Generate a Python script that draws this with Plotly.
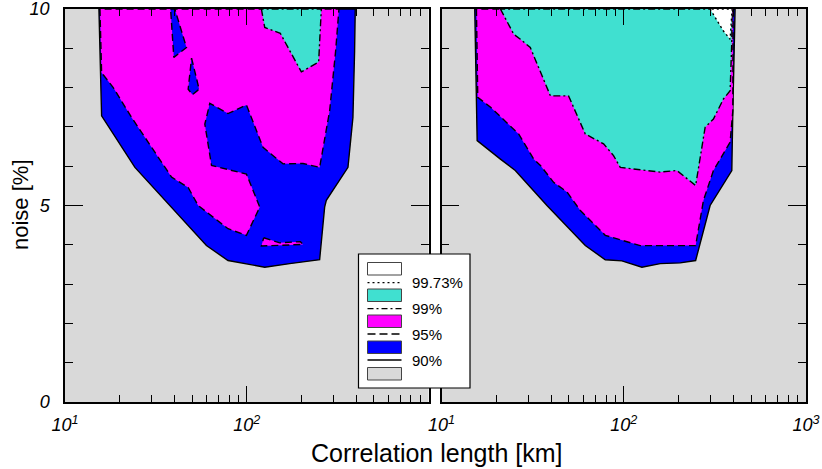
import plotly.graph_objects as go

# ── Contour polygons (x: correlation length [km], y: noise [%]) ──
# left panel
L90_x = [15.37, 15.9, 24.25, 36.96, 60.0, 78.9, 125.6, 172.3, 251.8, 268.3, 274.0, 360.5, 383.9, 392.1, 395.4]
L90_y = [10.0, 7.28, 5.97, 5.04, 3.98, 3.60, 3.43, 3.52, 3.62, 4.96, 5.13, 5.97, 7.24, 8.93, 10.0]

L95_x = [15.57, 15.9, 18.43, 23.25, 38.6, 47.6, 54.0, 78.9, 99.6, 117.9, 99.6, 64.0, 58.8, 62.6, 78.9, 99.6,
         122.9, 158.4, 204.0, 251.8, 285.8, 308.3, 321.6]
L95_y = [10.0, 8.38, 8.0, 7.24, 5.72, 5.46, 5.0, 4.41, 4.24, 4.96, 5.80, 6.02, 7.07, 7.60, 7.34, 7.56,
         6.48, 6.06, 6.07, 5.97, 7.41, 8.93, 10.0]

L95_hole1_x = [38.1, 40.2, 46.6, 39.7]
L95_hole1_y = [10.0, 10.0, 9.02, 8.77]
L95_hole2_x = [49.7, 54.7, 50.3, 47.6]
L95_hole2_y = [8.75, 7.96, 7.82, 7.96]

L95_island_x = [124.0, 151.8, 197.2, 204.0, 120.4]
L95_island_y = [4.18, 4.05, 4.08, 4.01, 3.97]

L99_x = [120.4, 125.6, 153.0, 199.7, 248.6, 257.2]
L99_y = [10.0, 9.53, 9.38, 8.40, 8.65, 10.0]

# right panel
R90_x = [15.22, 15.69, 21.05, 25.4, 37.9, 61.5, 79.2, 97.7, 125.8, 158.5, 204.0, 248.0, 297.8, 391.7, 396.7, 408.3]
R90_y = [10.0, 6.65, 6.18, 5.89, 5.0, 3.98, 3.62, 3.59, 3.43, 3.52, 3.54, 3.60, 5.0, 5.89, 7.41, 10.0]

R95_x = [15.55, 15.81, 18.6, 23.9, 26.5, 32.1, 34.9, 41.2, 48.9, 57.8, 79.2, 123.1, 204.0, 248.0, 273.7,
         310.5, 383.4, 396.7, 398.1]
R95_y = [10.0, 7.75, 7.50, 7.03, 6.82, 6.18, 6.02, 5.59, 5.34, 4.87, 4.24, 3.98, 3.98, 3.98, 5.13,
         5.89, 6.61, 7.41, 10.0]

R99_x = [21.05, 24.9, 27.1, 30.7, 39.6, 49.8, 61.5, 77.5, 87.9, 95.7, 123.1, 158.5, 195.6, 248.0, 279.6,
         310.5, 352.3, 383.4, 391.7, 393.2]
R99_y = [10.0, 9.36, 9.23, 9.02, 7.79, 7.79, 6.82, 6.57, 6.27, 5.97, 5.91, 5.85, 5.89, 5.51, 6.99,
         7.20, 7.71, 7.92, 9.19, 10.0]

R9973_x = [297.8, 352.3, 383.4, 393.2]
R9973_y = [10.0, 9.44, 9.23, 10.0]

levels = ["99.73%", "99%", "95%", "90%"]

X_MINOR = [20, 30, 40, 50, 60, 70, 80, 90, 200, 300, 400, 500, 600, 700, 800, 900]
Y_MINOR = [1, 2, 3, 4, 6, 7, 8, 9]

BLUE, MAGENTA, TURQ, WHITE, GRAY = "#0000ff", "#ff00ff", "#40e0d0", "#ffffff", "#d9d9d9"
DASH_90, DASH_95, DASH_99, DASH_9973 = "solid", "7px,4px", "7px,3px,2px,3px", "2px,3px"
FONT = "Liberation Sans, Arial, sans-serif"

fig = go.Figure()


def add_region(xs, ys, color, dash, axis):
    fig.add_trace(go.Scatter(
        x=xs + xs[:1], y=ys + ys[:1],
        mode="lines", fill="toself", fillcolor=color,
        line=dict(color="black", width=1.4, dash=dash),
        xaxis="x" + axis, yaxis="y" + axis,
        hoverinfo="skip", showlegend=False,
    ))


# left panel (draw order = nested levels)
add_region(L90_x, L90_y, BLUE, DASH_90, "")
add_region(L95_x, L95_y, MAGENTA, DASH_95, "")
add_region(L95_hole1_x, L95_hole1_y, BLUE, DASH_95, "")
add_region(L95_hole2_x, L95_hole2_y, BLUE, DASH_95, "")
add_region(L95_island_x, L95_island_y, MAGENTA, DASH_95, "")
add_region(L99_x, L99_y, TURQ, DASH_99, "")

# right panel
add_region(R90_x, R90_y, BLUE, DASH_90, "2")
add_region(R95_x, R95_y, MAGENTA, DASH_95, "2")
add_region(R99_x, R99_y, TURQ, DASH_99, "2")
add_region(R9973_x, R9973_y, WHITE, DASH_9973, "2")


def xlab(p):
    return "<i>10<sup>%d</sup></i>" % p


_XAXIS = dict(
    type="log", range=[1, 3], automargin=False,
    showline=True, linecolor="black", linewidth=1.5, mirror="ticks",
    ticks="inside", ticklen=16, tickwidth=1.3, tickcolor="black",
    showgrid=False, zeroline=False, tickmode="array",
    minor=dict(ticks="inside", ticklen=7, tickwidth=1.3, tickcolor="black",
               tickmode="array", tickvals=X_MINOR, showgrid=False),
    tickfont=dict(family=FONT, size=18, color="black"),
    ticklabelstandoff=6, ticklabeloverflow="allow",
)
_YAXIS = dict(
    range=[0, 10], automargin=False,
    showline=True, linecolor="black", linewidth=1.5, mirror="ticks",
    ticks="inside", ticklen=18, tickwidth=1.3, tickcolor="black",
    showgrid=False, zeroline=False,
    tickmode="array", tickvals=[0, 5, 10], ticktext=["<i>0</i>", "<i>5</i>", "<i>10</i>"],
    minor=dict(ticks="inside", ticklen=8, tickwidth=1.3, tickcolor="black",
               tickmode="array", tickvals=Y_MINOR, showgrid=False),
    tickfont=dict(family=FONT, size=18, color="black"),
    ticklabelstandoff=10, ticklabeloverflow="allow",
)

# pixel -> paper helpers for the hand-drawn legend box
L, T, W, H = 65, 9, 741, 393


def px(x):
    return (x - L) / W


def py(y):
    return (T + H - y) / H


fig.update_layout(
    width=822, height=469, autosize=False,
    margin=dict(l=L, r=822 - L - W, t=T, b=469 - T - H, autoexpand=False),
    paper_bgcolor="white", plot_bgcolor=GRAY,
    font=dict(family=FONT, color="black"),
    showlegend=False,
    xaxis=dict(domain=[0, px(428.5)], anchor="y",
               tickvals=[10, 100], ticktext=[xlab(1), xlab(2)], **_XAXIS),
    xaxis2=dict(domain=[px(441.5), 1], anchor="y2",
                tickvals=[10, 100, 1000], ticktext=[xlab(1), xlab(2), xlab(3)], **_XAXIS),
    yaxis=dict(domain=[0, 1], anchor="x", **_YAXIS),
    yaxis2=dict(domain=[0, 1], anchor="x2", showticklabels=False, **_YAXIS),
)

# axis titles
fig.add_annotation(text="Correlation length [km]", xref="paper", yref="paper",
                   x=px(437), y=py(453), xanchor="center", yanchor="middle", showarrow=False,
                   font=dict(family=FONT, size=25, color="black"))
fig.add_annotation(text="noise [%]", xref="paper", yref="paper",
                   x=px(20), y=py(205), xanchor="center", yanchor="middle",
                   textangle=-90, showarrow=False,
                   font=dict(family=FONT, size=22, color="black"))

# ── legend box drawn by hand ──
shapes = [dict(type="rect", xref="paper", yref="paper",
               x0=px(358.5), x1=px(470), y0=py(254), y1=py(388),
               fillcolor="white", line=dict(color="black", width=1.2), layer="above")]
patch_colors = [WHITE, TURQ, MAGENTA, BLUE, GRAY]
patch_tops = [262.5, 289, 315, 341, 367.5]
for c, top in zip(patch_colors, patch_tops):
    shapes.append(dict(type="rect", xref="paper", yref="paper",
                       x0=px(367.5), x1=px(401.5), y0=py(top), y1=py(top + 12.5),
                       fillcolor=c, line=dict(color="#444444", width=1), layer="above"))
line_ys = [282.7, 308.7, 334, 360]
for d, yy, lab in zip([DASH_9973, "6px,3px,2px,3px", "8px,4px", "solid"], line_ys, levels):
    shapes.append(dict(type="line", xref="paper", yref="paper",
                       x0=px(367.5), x1=px(401.5), y0=py(yy), y1=py(yy),
                       line=dict(color="black", width=1.3, dash=d), layer="above"))
    fig.add_annotation(text=lab, xref="paper", yref="paper", x=px(410), y=py(yy),
                       xanchor="left", yanchor="middle", showarrow=False,
                       font=dict(family=FONT, size=15, color="black"))
fig.update_layout(shapes=shapes)

# the browser's default 8px body margin would shift the whole figure
fig.write_html("out.html", config={"displayModeBar": False},
               post_script="document.body.style.margin='0';")
